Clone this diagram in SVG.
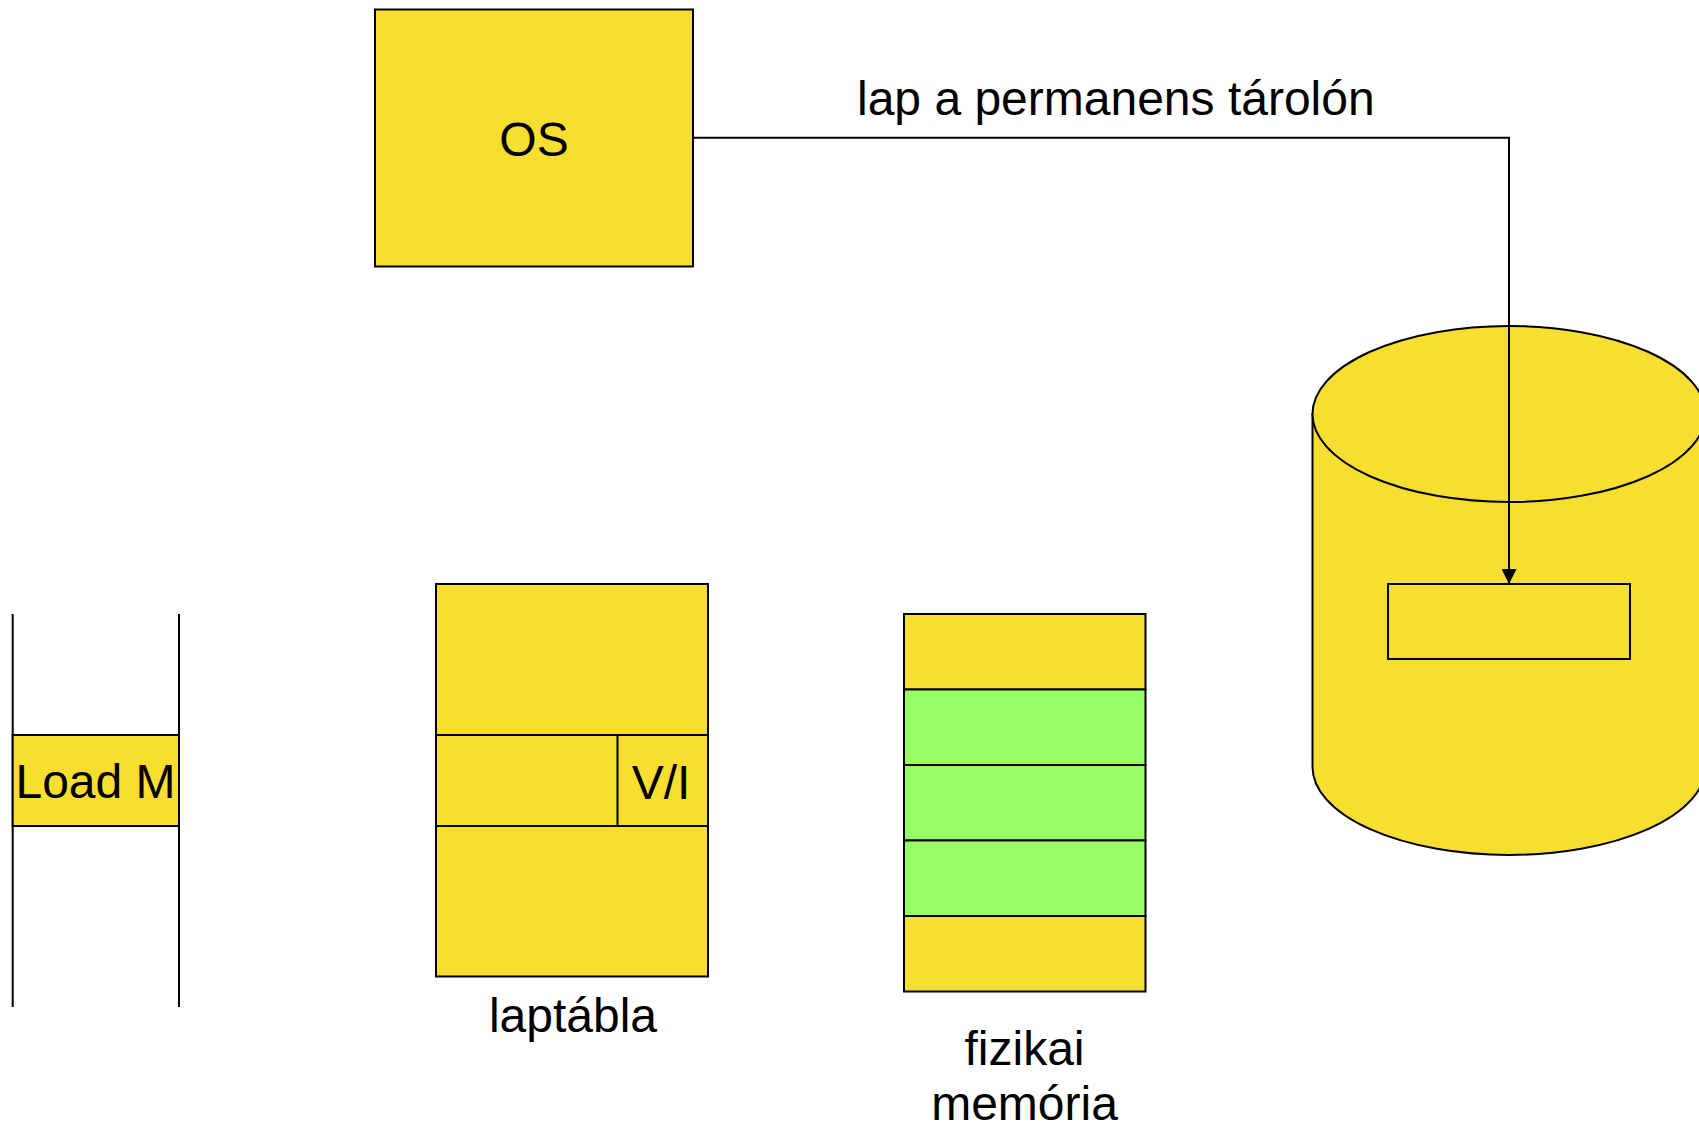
<svg xmlns="http://www.w3.org/2000/svg" width="1699" height="1125" viewBox="0 0 1699 1125">
  <style>
    .box { fill: #F8DE30; stroke: #000; stroke-width: 2; }
    .green { fill: #99FF66; stroke: #000; stroke-width: 2; }
    .line { fill: none; stroke: #000; stroke-width: 2; }
    .lbl { font-family: "Liberation Sans", Arial, sans-serif; font-size: 48px; fill: #000; }
    .mid { text-anchor: middle; }
  </style>
  <defs>
    <marker id="arrow" markerWidth="15" markerHeight="15" refX="15" refY="7.5" orient="auto" markerUnits="userSpaceOnUse">
      <path d="M0,0 L15,7.5 L0,15 Z" fill="#000"/>
    </marker>
  </defs>
  <rect width="1699" height="1125" fill="#fff"/>

  <!-- operating system -->
  <g id="os">
    <rect class="box" x="375" y="9.5" width="318" height="257"/>
    <text class="lbl mid" x="534" y="156">OS</text>
  </g>

  <!-- disk (permanent storage) -->
  <g id="disk">
    <path class="box" d="M1312.5,414 L1312.5,767 A196.5,88 0 0 0 1705.5,767 L1705.5,414 Z"/>
    <ellipse class="box" cx="1509" cy="414" rx="196.5" ry="88"/>
    <rect class="box" x="1388" y="584" width="242" height="75"/>
  </g>

  <!-- program code -->
  <g id="program">
    <line class="line" x1="12.7" y1="614" x2="12.7" y2="1007"/>
    <line class="line" x1="179" y1="614" x2="179" y2="1007"/>
    <rect class="box" x="12.7" y="735" width="166.3" height="91"/>
    <text class="lbl mid" x="95.5" y="798">Load M</text>
  </g>

  <!-- page table -->
  <g id="pagetable">
    <rect class="box" x="436" y="584" width="272" height="392.5"/>
    <line class="line" x1="436" y1="735" x2="708" y2="735"/>
    <line class="line" x1="436" y1="826" x2="708" y2="826"/>
    <line class="line" x1="617.5" y1="735" x2="617.5" y2="826"/>
    <text class="lbl mid" x="661" y="799">V/I</text>
    <text class="lbl mid" x="573" y="1031.5">laptábla</text>
  </g>

  <!-- physical memory frames -->
  <g id="memory">
    <rect class="box" x="904" y="614" width="241.5" height="75.5"/>
    <rect class="green" x="904" y="689.5" width="241.5" height="75.5"/>
    <rect class="green" x="904" y="765" width="241.5" height="75.5"/>
    <rect class="green" x="904" y="840.5" width="241.5" height="75.5"/>
    <rect class="box" x="904" y="916" width="241.5" height="75.5"/>
    <text class="lbl mid" x="1024.5" y="1065">fizikai</text>
    <text class="lbl mid" x="1024.5" y="1120">memória</text>
  </g>

  <!-- connectors -->
  <g id="connectors">
    <polyline class="line" points="693,137.7 1509,137.7 1509,584" marker-end="url(#arrow)"/>
    <text class="lbl" x="857" y="115">lap a permanens tárolón</text>
  </g>
</svg>
